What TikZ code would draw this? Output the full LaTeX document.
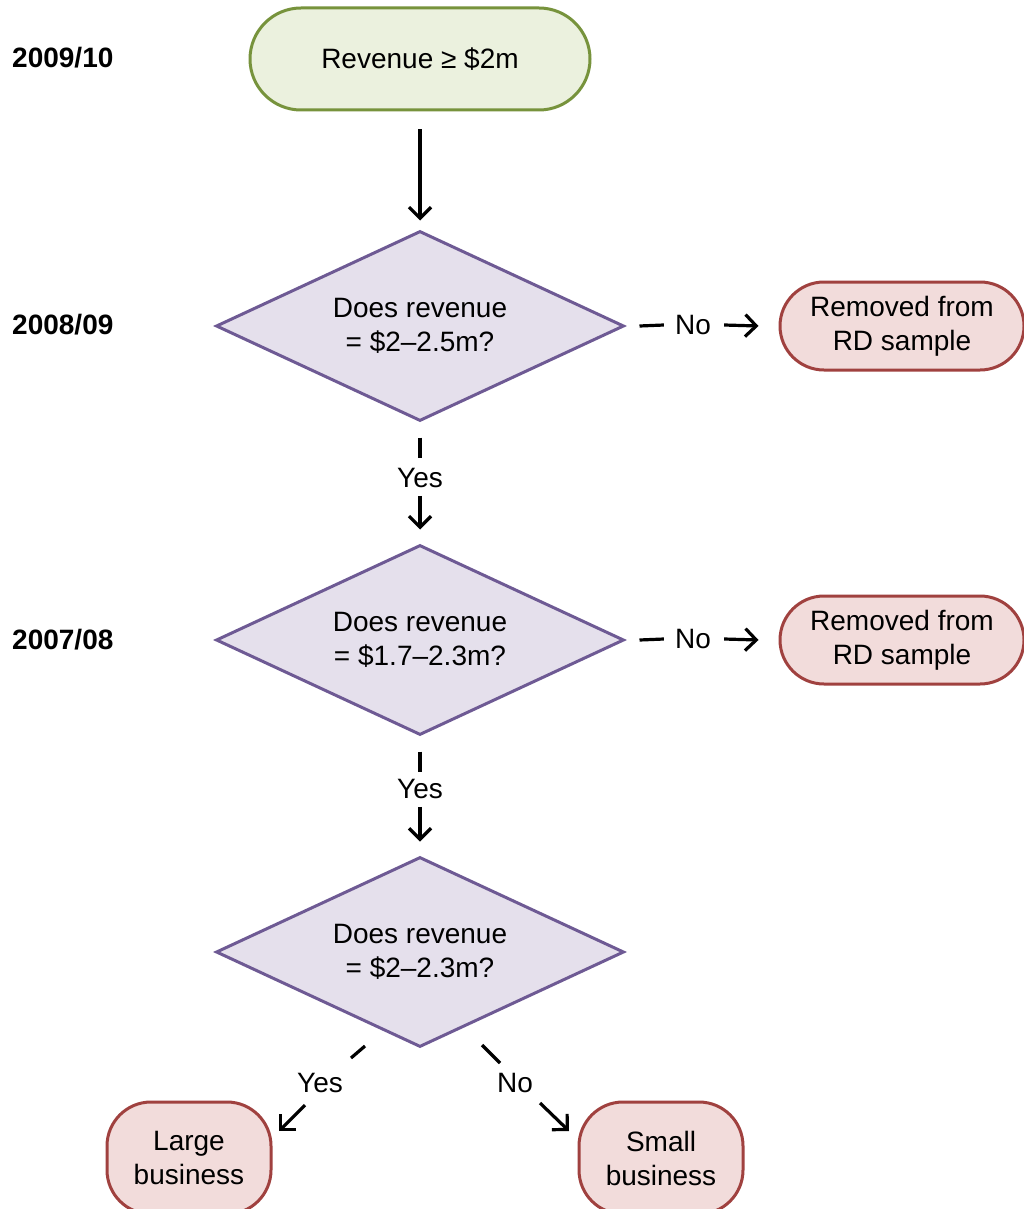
\documentclass[tikz,border=0pt]{standalone}
\usepackage{fontspec}
\setmainfont{Liberation Sans}
\usetikzlibrary{shapes.geometric,arrows.meta,calc}
\definecolor{gfill}{HTML}{EBF1DE}
\definecolor{gline}{HTML}{77933C}
\definecolor{pfill}{HTML}{E5E0EC}
\definecolor{pline}{HTML}{6E5A94}
\definecolor{rfill}{HTML}{F2DCDB}
\definecolor{rline}{HTML}{A0413F}
\tikzset{
  txt/.style={font=\fontsize{28}{34}\selectfont, align=center, inner sep=0pt},
  year/.style={font=\fontsize{28}{34}\selectfont\bfseries, anchor=west, inner sep=0pt},
  startbox/.style={txt, draw=gline, fill=gfill, line width=3pt, minimum width=340pt, minimum height=102pt, rounded corners=51pt},
  decision/.style={txt, diamond, draw=pline, fill=pfill, line width=3pt, minimum width=408pt, minimum height=190pt, aspect=2.147},
  endbox/.style={txt, draw=rline, fill=rfill, line width=3pt, minimum width=244pt, minimum height=88pt, rounded corners=44pt},
  bizbox/.style={txt, draw=rline, fill=rfill, line width=3pt, minimum width=164pt, minimum height=112pt, rounded corners=44pt},
  seg/.style={line width=3.2pt},
  arr/.style={line width=3.2pt, -{Straight Barb[length=11pt,width=22pt]}},
  lbl/.style={txt}
}
\begin{document}
\begin{tikzpicture}[x=1pt,y=-1pt]
\useasboundingbox (0,0) rectangle (1023,1209);
\fill[white] (0,0) rectangle (1023,1209);

\node[year] (y1) at (12,58) {2009/10};
\node[year] (y2) at (12,325) {2008/09};
\node[year] (y3) at (12,640) {2007/08};

\node[startbox] (s) at (420,59) {Revenue ≥ \$2m};
\node[decision] (d1) at (420,326) {Does revenue\\= \$2–2.5m?};
\node[decision] (d2) at (420,640) {Does revenue\\= \$1.7–2.3m?};
\node[decision] (d3) at (420,952) {Does revenue\\= \$2–2.3m?};
\node[endbox] (r1) at (902,326) {Removed from\\RD sample};
\node[endbox] (r2) at (902,640) {Removed from\\RD sample};
\node[bizbox] (lb) at (189,1158) {Large\\business};
\node[bizbox] (sb) at (661,1158) {Small\\business};

% top arrow
\draw[arr] ($(s.south)+(0,18)$) -- ($(d1.north)+(0,-9)$);

% No branches
\node[lbl] (no1) at (693,325) {No};
\node[lbl] (no2) at (693,639) {No};
\draw[seg] ($(d1.east)+(14,0)$) -- ($(no1.west)+(-11,0)$);
\draw[arr] ($(no1.east)+(13,0)$) -- ($(r1.west)+(-20,0)$);
\draw[seg] ($(d2.east)+(14,0)$) -- ($(no2.west)+(-11,0)$);
\draw[arr] ($(no2.east)+(13,0)$) -- ($(r2.west)+(-20,0)$);

% Yes branches
\node[lbl] (yes1) at (420,478) {Yes};
\node[lbl] (yes2) at (420,789) {Yes};
\draw[seg] ($(d1.south)+(0,15)$) -- ($(d1.south)+(0,35)$);
\draw[arr] ($(yes1.south)+(0,8)$) -- ($(d2.north)+(0,-14)$);
\draw[seg] ($(d2.south)+(0,15)$) -- ($(d2.south)+(0,35)$);
\draw[arr] ($(yes2.south)+(0,8)$) -- ($(d3.north)+(0,-14)$);

% final branches
\node[lbl] (yes3) at (320,1083) {Yes};
\node[lbl] (no3) at (515,1083) {No};
\coordinate (a1) at (365,1046);
\coordinate (a2) at (351,1058);
\coordinate (a3) at (305,1105);
\coordinate (a4) at (279,1131);
\coordinate (b1) at (482,1045);
\coordinate (b2) at (500,1063);
\coordinate (b3) at (540,1103);
\coordinate (b4) at (569,1131);
\draw[seg] (a1) -- (a2);
\draw[arr] (a3) -- (a4);
\draw[seg] (b1) -- (b2);
\draw[arr] (b3) -- (b4);
\end{tikzpicture}
\end{document}
